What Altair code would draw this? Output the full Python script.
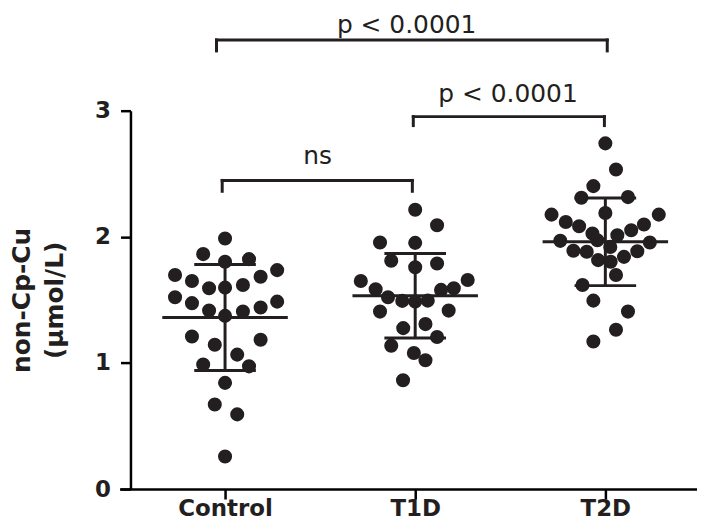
import altair as alt
import pandas as pd

# ---- data ----
categories = ["Control", "T1D", "T2D"]

control_vals = [1.987, 1.863, 1.802, 1.823, 1.697, 1.650, 1.683, 1.736, 1.592, 1.597,
                1.618, 1.521, 1.474, 1.415, 1.373, 1.407, 1.439, 1.486, 1.210, 1.144,
                1.184, 1.066, 0.987, 0.973, 0.842, 0.671, 0.592, 0.258]
control_jitter = [0.0, -0.115, 0.0, 0.126, -0.263, -0.174, 0.187, 0.274, -0.084, 0.0,
                  0.094, -0.263, -0.174, -0.084, 0.0, 0.094, 0.187, 0.274, -0.174, -0.054,
                  0.187, 0.064, -0.115, 0.126, 0.0, -0.054, 0.064, 0.0]

t1d_vals = [2.215, 2.092, 1.955, 1.952, 1.810, 1.789, 1.758, 1.650, 1.584, 1.657,
            1.592, 1.579, 1.521, 1.492, 1.486, 1.494, 1.407, 1.415, 1.276, 1.308,
            1.205, 1.137, 1.079, 1.021, 0.863]
t1d_jitter = [0.0, 0.115, -0.185, 0.0, -0.126, 0.115, 0.0, -0.286, -0.208, 0.276,
              0.203, 0.136, -0.143, -0.068, 0.0, 0.066, -0.185, 0.176, -0.063, 0.054,
              0.115, -0.126, -0.007, 0.054, -0.064]

t2d_vals = [2.741, 2.534, 2.402, 2.310, 2.315, 2.189, 2.176, 2.176, 2.118, 2.084,
            2.097, 2.052, 2.026, 2.013, 1.968, 1.955, 1.889, 1.881, 1.886, 1.841,
            1.815, 1.802, 1.697, 1.618, 1.494, 1.407, 1.263, 1.170, 1.973, 1.920]
t2d_jitter = [0.0, 0.056, -0.063, -0.126, 0.119, 0.0, -0.283, 0.281, -0.208, -0.138,
              0.203, 0.136, -0.068, 0.063, -0.237, 0.234, -0.168, -0.098, 0.168, 0.098,
              -0.038, 0.028, 0.056, -0.120, -0.063, 0.119, 0.056, -0.063, -0.042, 0.026]

# significance brackets (in data units: group index on x, value on y)
bracket_x1 = [-0.045, 0.99, -0.015]
bracket_x2 = [2.01, 1.995, 0.985]
bracket_y = [3.561, 2.953, 2.447]
bracket_drop = [3.474, 2.882, 2.361]
bracket_text = ["p < 0.0001", "p < 0.0001", "ns"]
text_x = [0.955, 1.488, 0.487]
text_y = [3.62, 3.071, 2.578]

# ---- tables ----
rows = []
for gi, (vals, jit) in enumerate([(control_vals, control_jitter),
                                  (t1d_vals, t1d_jitter),
                                  (t2d_vals, t2d_jitter)]):
    for v, j in zip(vals, jit):
        rows.append({"group": gi, "gx": gi + j, "value": v})
points_df = pd.DataFrame(rows)

brackets_df = pd.DataFrame({"x1": bracket_x1, "x2": bracket_x2,
                            "y": bracket_y, "drop": bracket_drop})
texts_df = pd.DataFrame({"x": text_x, "y": text_y, "label": bracket_text})

INK = "#231f20"
label_expr = "[" + ",".join(f"'{c}'" for c in categories) + "][datum.value]"

xscale = alt.Scale(domain=[-0.555, 2.482], nice=False, zero=False)
yscale = alt.Scale(domain=[0, 3], nice=False, zero=True)

x_axis = alt.Axis(values=[0, 1, 2], labelExpr=label_expr, title=None, grid=False,
                  domainColor="black", domainWidth=2.5, tickColor="black", tickWidth=2.5,
                  tickSize=10, labelFont="DejaVu Sans", labelFontWeight="bold",
                  labelFontSize=23, labelColor=INK, labelBaseline="alphabetic",
                  labelPadding=17, labelFlush=False)
y_axis = alt.Axis(values=[0, 1, 2, 3], format="d", title=["non-Cp-Cu", "(µmol/L)"],
                  grid=False, offset=-11, domainColor="black", domainWidth=2.5,
                  tickColor="black", tickWidth=2.5, tickSize=10, labelFont="DejaVu Sans",
                  labelFontWeight="bold", labelFontSize=23, labelColor=INK,
                  labelPadding=10, labelBaseline="middle",
                  titleFont="DejaVu Sans", titleFontWeight="bold", titleFontSize=25,
                  titleColor=INK, titleLineHeight=33, titleAngle=270,
                  titleAlign="center", titleBaseline="alphabetic",
                  titleX=-101, titleY=190)

points = alt.Chart(points_df).mark_circle(size=200, color=INK, opacity=1).encode(
    x=alt.X("gx:Q", scale=xscale, axis=x_axis),
    y=alt.Y("value:Q", scale=yscale, axis=y_axis),
)

stats = alt.Chart(points_df).transform_aggregate(
    mean="mean(value)", sd="stdev(value)", groupby=["group"]
).transform_calculate(
    lo="datum.mean - datum.sd", hi="datum.mean + datum.sd",
    ml="datum.group - 0.33", mr="datum.group + 0.33",
    cl="datum.group - 0.162", cr="datum.group + 0.162",
)

mean_line = stats.mark_rule(color=INK, strokeWidth=3).encode(
    x=alt.X("ml:Q", scale=xscale), x2="mr:Q", y=alt.Y("mean:Q", scale=yscale))
stem = stats.mark_rule(color=INK, strokeWidth=3).encode(
    x=alt.X("group:Q", scale=xscale), y=alt.Y("lo:Q", scale=yscale), y2="hi:Q")
cap_hi = stats.mark_rule(color=INK, strokeWidth=3).encode(
    x=alt.X("cl:Q", scale=xscale), x2="cr:Q", y=alt.Y("hi:Q", scale=yscale))
cap_lo = stats.mark_rule(color=INK, strokeWidth=3).encode(
    x=alt.X("cl:Q", scale=xscale), x2="cr:Q", y=alt.Y("lo:Q", scale=yscale))

br = alt.Chart(brackets_df)
br_h = br.mark_rule(color=INK, strokeWidth=3, strokeCap="square").encode(
    x=alt.X("x1:Q", scale=xscale), x2="x2:Q", y=alt.Y("y:Q", scale=yscale))
br_l = br.mark_rule(color=INK, strokeWidth=3, strokeCap="square").encode(
    x=alt.X("x1:Q", scale=xscale), y=alt.Y("drop:Q", scale=yscale), y2="y:Q")
br_r = br.mark_rule(color=INK, strokeWidth=3, strokeCap="square").encode(
    x=alt.X("x2:Q", scale=xscale), y=alt.Y("drop:Q", scale=yscale), y2="y:Q")

texts = alt.Chart(texts_df).mark_text(
    font="DejaVu Sans", fontSize=25, color=INK, align="center", baseline="alphabetic"
).encode(
    x=alt.X("x:Q", scale=xscale), y=alt.Y("y:Q", scale=yscale), text="label:N")

chart = alt.layer(points, mean_line, stem, cap_hi, cap_lo, br_h, br_l, br_r, texts).properties(
    width=580, height=380,
    padding={"left": 112, "top": 102, "right": 0, "bottom": 42},
    autosize=alt.AutoSizeParams(type="none"),
    background="white",
).configure_view(stroke=None)

chart.save("out.html", embed_options={"renderer": "svg", "actions": False})
